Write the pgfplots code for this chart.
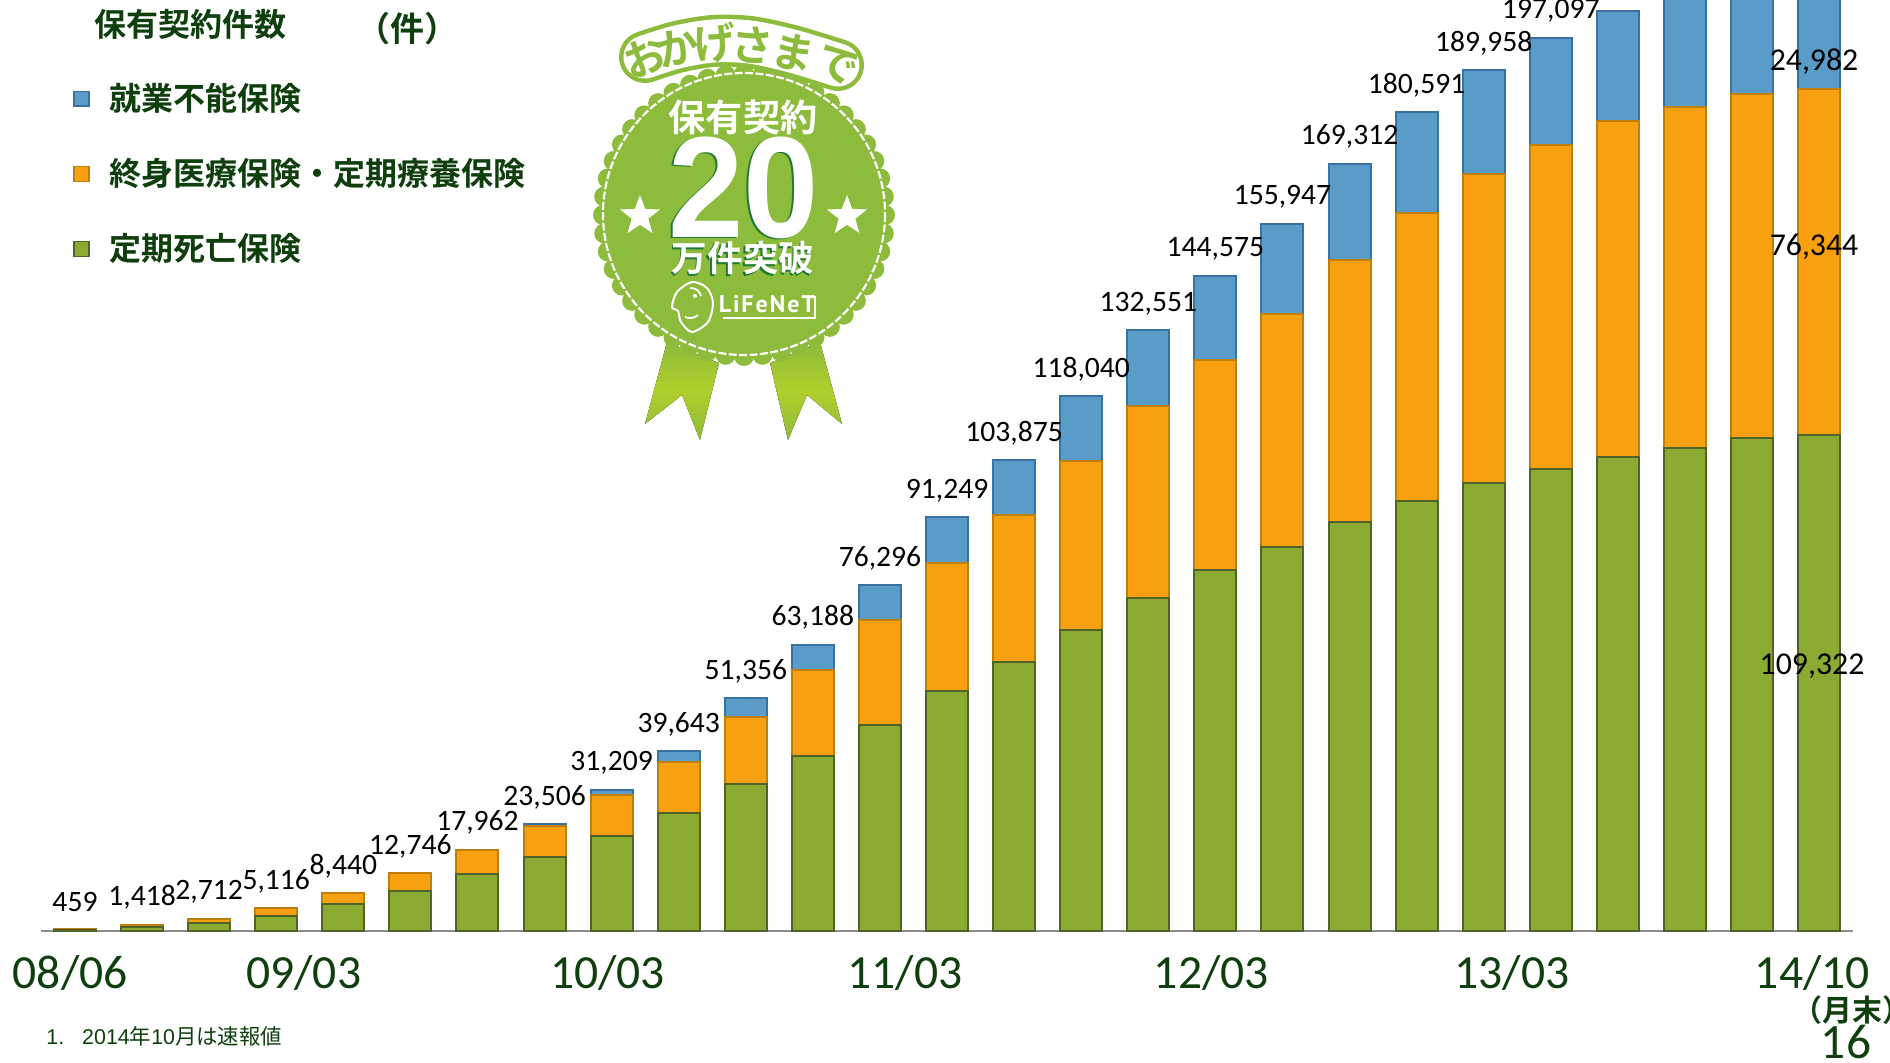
\documentclass[border=0pt]{standalone}
\usepackage{fontspec}
\usepackage{pgfplots}
\usepackage{pgfplotstable}
\pgfplotsset{compat=1.18}
\usetikzlibrary{shapes.geometric}
\setmainfont{Carlito}
\newfontfamily\cjkb{Noto Sans CJK JP Bold}
\newfontfamily\cjkr{Noto Sans CJK JP}
\newfontfamily\lib{Liberation Sans}
\newfontfamily\libb{Liberation Sans Bold}
\newfontfamily\logo[LetterSpace=8]{PT Sans Bold}
\newcommand{\fs}[1]{\fontsize{#1}{#1}\selectfont}
\definecolor{gr}{HTML}{8BAA31}
\definecolor{grE}{HTML}{4F6228}
\definecolor{or}{HTML}{F9A010}
\definecolor{orE}{HTML}{BF7F0C}
\definecolor{bl}{HTML}{5A9CC8}
\definecolor{blE}{HTML}{39719F}
\definecolor{txt}{HTML}{0E3F0D}
\definecolor{badge}{HTML}{8DBB3C}
\definecolor{dkg}{HTML}{1F7A34}
\pgfplotstableread{
i g o b z lab
0 200 259 0 1 459
1 810 608 0 1 1,418
2 1690 1022 0 1 2,712
3 3380 1736 0 1 5,116
4 5950 2490 0 1 8,440
5 8900 3846 0 1 12,746
6 12570 5392 0 1 17,962
7 16330 6830 346 1 23,506
8 21030 8970 1209 1 31,209
9 25960 11310 2373 1 39,643
10 32350 14930 4076 1 51,356
11 38680 18820 5688 1 63,188
12 45370 23230 7696 1 76,296
13 52870 28310 10069 1 91,249
14 59270 32500 12105 1 103,875
15 66400 37220 14420 1 118,040
16 73530 42270 16751 1 132,551
17 79640 46390 18545 1 144,575
18 84710 51330 19907 1 155,947
19 90230 57860 21222 1 169,312
20 94900 63430 22261 1 180,591
21 98830 68100 23028 1 189,958
22 101920 71410 23767 1 197,097
23 104500 74120 24270 1 {}
24 106550 75160 24200 1 {}
25 108690 75960 24000 1 {}
26 109322 76344 24982 1 {}
}\datatab
\pgfplotsset{sq/.style={legend image code/.code={\draw[##1,line width=.7pt] (0pt,-3.7pt) rectangle (7.4pt,3.7pt);\path[draw=none,fill=none] (0pt,0pt)--(15.8pt,0pt);}}}
\begin{document}
\begin{tikzpicture}
\useasboundingbox (0,0) rectangle (945pt,531pt);
\begin{axis}[
  at={(20.73pt,65.5pt)},anchor=south west,
  scale only axis,width=905.6pt,height=465.5pt,
  ybar stacked,bar width=21pt,
  xmin=-0.5,xmax=26.5,ymin=0,ymax=205383,
  axis x line=bottom,axis y line=none,
  axis line style={-,draw=black!45,line width=.9pt},
  xtick={-0.07,3.41,7.94,12.37,16.94,21.42,25.9},
  xticklabels={08/06,09/03,10/03,11/03,12/03,13/03,14/10},
  major tick length=0pt,
  x tick label style={font=\fs{23.8},text=txt,yshift=-8.6pt},
  reverse legend,
  legend cell align=left,
  legend style={at={(0.0174,0.915)},anchor=north west,draw=none,fill=none,inner sep=0pt,
    font=\cjkb\fs{16},text=txt,row sep=18.4pt},
]
\addplot[sq,fill=gr,draw=grE,line width=1pt] table[x=i,y=g]{\datatab};
\addlegendentry{定期死亡保険}
\addplot[sq,fill=or,draw=orE,line width=1pt] table[x=i,y=o]{\datatab};
\addlegendentry{終身医療保険・定期療養保険}
\addplot[sq,fill=bl,draw=blE,line width=1pt] table[x=i,y=b]{\datatab};
\addlegendentry{就業不能保険}
\addplot[forget plot,draw=none,fill=none,
  point meta=explicit symbolic,
  nodes near coords,
  every node near coord/.append style={font=\fs{14.8},text=black,anchor=center,yshift=13.4pt,inner sep=0pt}]
  table[x=i,y=z,meta=lab]{\datatab};
\end{axis}
\begin{scope}[x=0.5pt,y=-0.5pt,shift={(0pt,531pt)}]
% value labels of the last bar
\node[font=\fs{15.9},text=black,inner sep=0pt] at (1814,62) {24,982};
\node[font=\fs{15.9},text=black,inner sep=0pt] at (1814,247) {76,344};
\node[font=\fs{15.9},text=black,inner sep=0pt] at (1812,666) {109,322};
% header texts
\node[font=\cjkb\fs{16},text=txt] at (190,24) {保有契約件数};
\node[font=\cjkb\fs{17},text=txt] at (407,29) {（件）};
% footer
\node[anchor=west,font=\lib\fs{10.7},text=txt,inner sep=0pt] at (46,1036) {1.\hspace{9pt}2014{\cjkr 年}10{\cjkr 月は速報値}};
\node[font=\cjkb\fs{15},text=txt] at (1852,1010) {（月末）};
\node[font=\fs{24.7},text=txt] at (1846,1042) {16};
% ribbons
\fill[top color=badge,bottom color=badge,middle color=badge!70!yellow] (667,342)--(719,363)--(700,440)--(682,395)--(645,424)--cycle;
\fill[top color=badge,bottom color=badge,middle color=badge!70!yellow] (820,342)--(770,363)--(788,440)--(807,395)--(842,424)--cycle;
% medal
\foreach \a in {0,7.5,...,352.5}
  \fill[badge] ({744+141*cos(\a)},{215+141*sin(\a)}) circle[radius=10];
\fill[badge] (744,215) circle[radius=143];
\draw[white,line width=1.1pt,dash pattern=on 4pt off 1.2pt] (744,214) circle[radius=141];
% arched text on a band
\draw[badge,line width=26pt,line cap=round,line join=round] plot[smooth] coordinates {(645,57)(677,47)(713,41)(750,42)(792,51)(838,65)};
\draw[white,line width=21.5pt,line cap=round,line join=round] plot[smooth] coordinates {(645,57)(677,47)(713,41)(750,42)(792,51)(838,65)};
\foreach \c/\x/\y/\r in {お/645/57/20,か/678/48/12,げ/715/43/5,さ/753/45/-4,ま/793/53/-12,で/837/65/-22}{
  \node[font=\cjkb\fs{21},text=badge,rotate=\r] at (\x,\y) {\c};
}
% inner text
\node[font=\cjkb\fs{18.6},text=white] at (743,117) {保有契約};
\node[font=\libb\fs{72},text=dkg] at (742,189) {\scalebox{.94}[1]{20}};
\node[font=\libb\fs{72},text=white] at (744,188) {\scalebox{.94}[1]{20}};
\node[font=\cjkb\fs{17.8},text=dkg] at (741.5,259.5) {万件突破};
\node[font=\cjkb\fs{17.8},text=white] at (743,258) {万件突破};
\node[star,star points=5,star point ratio=2.4,fill=white,minimum size=21pt,inner sep=0pt] at (640,216) {};
\node[star,star points=5,star point ratio=2.4,fill=white,minimum size=21pt,inner sep=0pt] at (847,216) {};
% logo
\draw[white,line width=1pt] plot[smooth cycle] coordinates {(692,282)(707,288)(713,303)(708,322)(692,332)(681,322)(678,311)(672,307)(677,292)};
\draw[white,line width=.9pt] (685,317) to[bend right=30] (698,315);
\fill[white] (695,296) circle[radius=2];
\draw[white,line width=.9pt] (690,288) to[bend left=40] (701,296);
\node[font=\logo\fs{12},text=white,inner sep=0pt] at (767,304) {LiFeNeT};
\draw[white,line width=1pt] (723,318)--(815,318)--(815,296);
\end{scope}
\end{tikzpicture}
\end{document}
